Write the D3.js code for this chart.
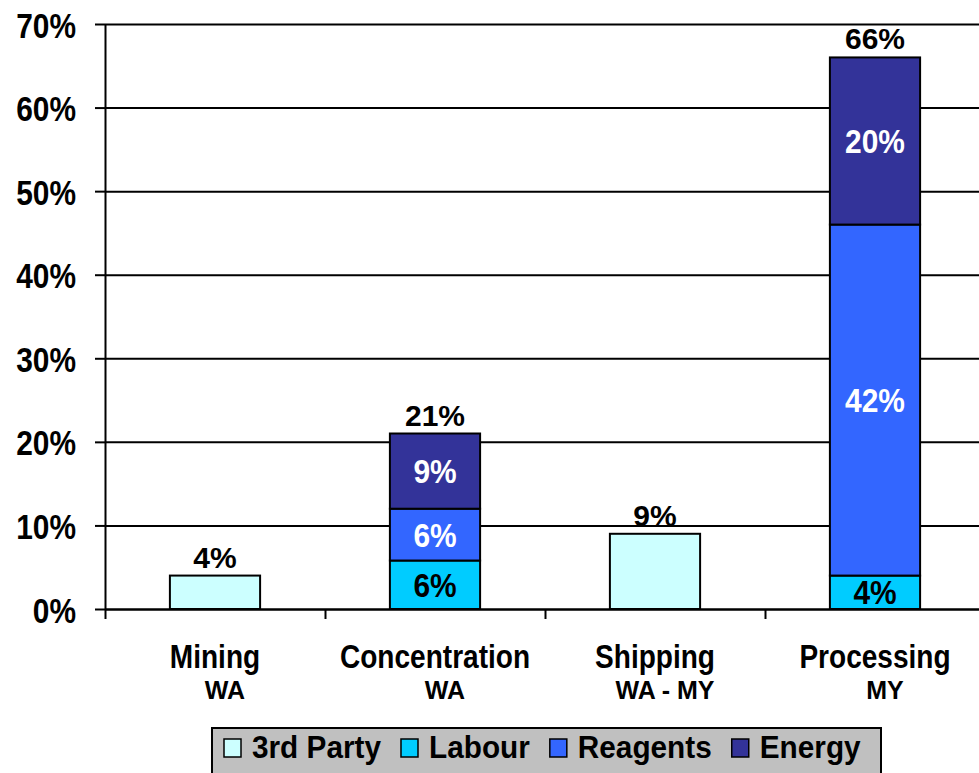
<!DOCTYPE html>
<html>
<head>
<meta charset="utf-8">
<script src="https://cdn.jsdelivr.net/npm/d3@7/dist/d3.min.js"></script>
<style>
  html, body { margin: 0; padding: 0; background: #fff; }
  svg { display: block; }
  text { font-family: "Liberation Sans", Arial, sans-serif; font-weight: bold; }
</style>
</head>
<body>
<svg id="chart" width="979" height="773"></svg>
<script>
// ---- data ----
const categories = ["Mining", "Concentration", "Shipping", "Processing"];
const regions = ["WA", "WA", "WA - MY", "MY"];
const seriesNames = ["3rd Party", "Labour", "Reagents", "Energy"];
const thirdParty = [4, 0, 9, 0];
const labour = [0, 5.8, 0, 4];
const reagents = [0, 6.2, 0, 42];
const energy = [0, 9, 0, 20];
const yTicks = [0, 10, 20, 30, 40, 50, 60, 70];
const seriesColors = ["#CCFFFF", "#00CCFF", "#3366FF", "#333399"];

(function () {
// ---- build table ----
const seriesValues = [thirdParty, labour, reagents, energy];
const table = categories.map((c, i) => {
  const row = { category: c, region: regions[i] };
  seriesNames.forEach((s, j) => { row[s] = seriesValues[j][i]; });
  return row;
});

const W = 979, H = 773;
const mLeft = 105, mTop = 24, mBottom = 609, plotRight = 985;
const svg = d3.select("#chart");
svg.append("rect").attr("width", W).attr("height", H).attr("fill", "#fff");

const x = d3.scaleBand().domain(categories).range([mLeft, plotRight])
  .paddingInner(0.59).paddingOuter(0.295);
const xb = d3.scaleLinear().domain([0, categories.length]).range([mLeft, plotRight]);
const y = d3.scaleLinear().domain([0, 70]).range([mBottom, mTop]);
const color = d3.scaleOrdinal().domain(seriesNames).range(seriesColors);

function ctext(g, px, py, str, size, sx, anchor, fill) {
  return g.append("text")
    .attr("transform", `translate(${px},${py}) scale(${sx},1)`)
    .attr("text-anchor", anchor)
    .attr("font-size", size)
    .attr("fill", fill)
    .text(str);
}

// gridlines
const grid = svg.append("g").attr("transform", `translate(${mLeft},0)`)
  .call(d3.axisLeft(y).tickValues(yTicks).tickSize(-(W - mLeft)).tickFormat(""));
grid.select(".domain").remove();
grid.selectAll(".tick line").attr("stroke", "#000").attr("stroke-width", 2);

// stacked bars
const stack = d3.stack().keys(seriesNames);
const layers = stack(table);
const barG = svg.append("g");
layers.forEach(layer => {
  barG.selectAll(null).data(layer.filter(d => d[1] - d[0] > 0)).enter()
    .append("rect")
    .attr("x", d => x(d.data.category))
    .attr("width", x.bandwidth())
    .attr("y", d => y(d[1]))
    .attr("height", d => y(d[0]) - y(d[1]))
    .attr("fill", color(layer.key))
    .attr("stroke", "#000")
    .attr("stroke-width", 2);
});

// inner labels (not for 3rd Party)
layers.forEach(layer => {
  if (layer.key === "3rd Party") return;
  layer.filter(d => d[1] - d[0] > 0).forEach(d => {
    const cx = x(d.data.category) + x.bandwidth() / 2;
    const cy = (y(d[0]) + y(d[1])) / 2;
    ctext(barG, cx, cy + 12, Math.round(d[1] - d[0]) + "%", 34, 0.88, "middle",
      layer.key === "Labour" ? "#000" : "#fff");
  });
});

// totals
table.forEach(row => {
  const total = d3.sum(seriesNames, s => row[s]);
  const cx = x(row.category) + x.bandwidth() / 2;
  ctext(barG, cx, y(total) - 8, Math.round(total) + "%", 30, 1, "middle", "#000");
});

// y axis
const yAxis = svg.append("g").attr("transform", `translate(${mLeft},0)`)
  .call(d3.axisLeft(y).tickValues(yTicks).tickSize(10).tickSizeOuter(0).tickFormat(""));
yAxis.select(".domain").attr("stroke", "#000").attr("stroke-width", 2);
yAxis.selectAll(".tick line").attr("stroke", "#000").attr("stroke-width", 2);
yTicks.forEach(t => {
  ctext(svg, 76, y(t) + 13.5, t + "%", 36, 0.83, "end", "#000");
});

// x axis (boundary ticks)
const xAxis = svg.append("g").attr("transform", `translate(0,${mBottom})`)
  .call(d3.axisBottom(xb).tickValues(d3.range(categories.length)).tickSize(10).tickSizeOuter(0).tickFormat(""));
xAxis.select(".domain").attr("stroke", "#000").attr("stroke-width", 2);
xAxis.selectAll(".tick line").attr("stroke", "#000").attr("stroke-width", 2);

// category labels
table.forEach(row => {
  const cx = x(row.category) + x.bandwidth() / 2;
  ctext(svg, cx, 668, row.category, 33, 0.85, "middle", "#000");
  ctext(svg, cx + 10, 699, row.region, 25, 1, "middle", "#000");
});

// legend
const lg = svg.append("g");
lg.append("rect").attr("x", 212).attr("y", 728).attr("width", 669).attr("height", 60)
  .attr("fill", "#C0C0C0").attr("stroke", "#000").attr("stroke-width", 2);
let lx = 224;
seriesNames.forEach(s => {
  lg.append("rect").attr("x", lx).attr("y", 739).attr("width", 17).attr("height", 18)
    .attr("fill", color(s)).attr("stroke", "#000").attr("stroke-width", 1.5);
  const t = ctext(lg, lx + 28, 758, s, 32, 0.93, "start", "#000");
  const w = t.node().getComputedTextLength() * 0.93;
  lx = lx + 28 + w + 20;
});
})();
</script>
</body>
</html>
